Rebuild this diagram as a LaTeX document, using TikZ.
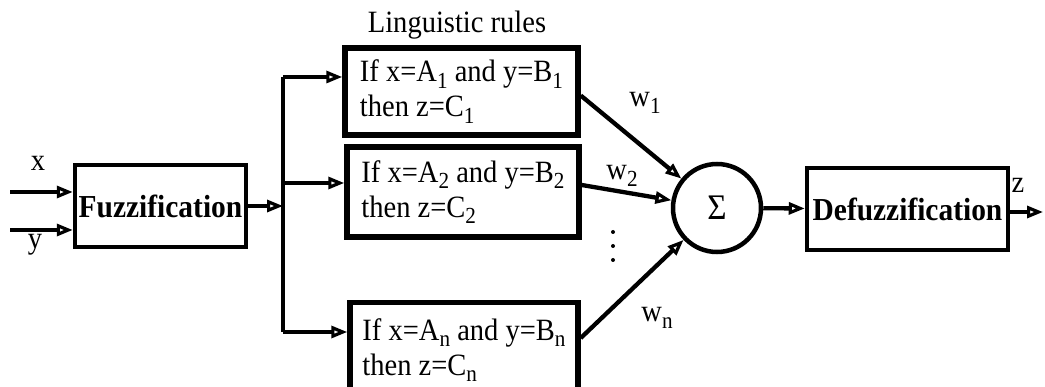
\documentclass[tikz,border=0pt]{standalone}
\usepackage{fontspec}
\setmainfont[FakeStretch=0.92]{Liberation Serif}
\usetikzlibrary{arrows.meta,calc}
\newcommand{\lowsub}[1]{\raisebox{-0.22em}{\fontsize{23pt}{23pt}\selectfont #1}}
\tikzset{
  conn/.style={line width=4.3pt},
  arr/.style={conn,-{Triangle[open,length=16pt,width=12pt,line width=3.2pt]}},
  blockbox/.style={draw,line width=4.5pt,inner sep=0pt,font=\fontsize{32pt}{32pt}\selectfont\bfseries},
  rulebox/.style={draw,line width=5.5pt,inner sep=0pt,align=left,font=\fontsize{31pt}{35pt}\selectfont},
  lbl/.style={inner sep=0pt,font=\fontsize{31pt}{31pt}\selectfont},
}
\begin{document}
\begin{tikzpicture}[x=1pt,y=-1pt]
\useasboundingbox (0,0) rectangle (1045,387);
% blocks
\node[blockbox,minimum width=171pt,minimum height=82pt] (fz) at (160.5,206) {Fuzzification};
\node[rulebox,minimum width=233pt,minimum height=87pt] (r1) at (461.5,91.5) {If x=A\lowsub{1} and y=B\lowsub{1}\\then z=C\lowsub{1}};
\node[rulebox,minimum width=232pt,minimum height=90pt] (r2) at (463,192) {If x=A\lowsub{2} and y=B\lowsub{2}\\then z=C\lowsub{2}};
\node[rulebox,minimum width=228pt,minimum height=95pt] (rn) at (464,350) {If x=A\lowsub{n} and y=B\lowsub{n}\\then z=C\lowsub{n}};
\node[draw,circle,line width=4.5pt,minimum size=88pt,inner sep=0pt,font=\fontsize{36pt}{36pt}\selectfont] (sig) at (717,208) {Σ};
\node[blockbox,minimum width=201pt,minimum height=82pt,font=\fontsize{32pt}{32pt}\selectfont\bfseries] (df) at (907.5,209) {Defuzzification};
% labels
\node[lbl] (lr) at (457,25) {Linguistic rules};
\node[lbl] (lx) at (38,163) {x};
\node[lbl] (ly) at (35,245) {y};
\node[lbl] (lz) at (1018,185) {z};
\node[lbl] (lw1) at (645,103) {w\lowsub{1}};
\node[lbl] (lw2) at (622,176) {w\lowsub{2}};
\node[lbl] (lwn) at (657,318) {w\lowsub{n}};
\fill (613,232) circle (2pt) (613,246) circle (2pt) (613,260) circle (2pt);
% coordinates
\coordinate (xin) at (10,192);
\coordinate (yin) at (10,230);
\coordinate (bustop) at (283,77);
\coordinate (bus2) at (283,183);
\coordinate (busbot) at (283,332);
\coordinate (zout) at (1043,212);
% connectors
\draw[arr] (xin) -- (xin -| fz.west);
\draw[arr] (yin) -- (yin -| fz.west);
\draw[conn] (bustop) -- (busbot);
\draw[arr] (fz.east) -- (fz.east -| bustop);
\draw[arr] (bustop) -- (bustop -| r1.west);
\draw[arr] (bus2) -- (bus2 -| r2.west);
\draw[arr] (busbot) -- (busbot -| rn.west);
\draw[arr] ([yshift=-4pt]r1.east) -- (sig);
\draw[arr] ([yshift=7pt]r2.east) -- (sig);
\draw[arr] ([yshift=12pt]rn.east) -- (sig);
\draw[arr] (sig) -- (df);
\draw[arr] (zout -| df.east) -- (zout);
\end{tikzpicture}
\end{document}
